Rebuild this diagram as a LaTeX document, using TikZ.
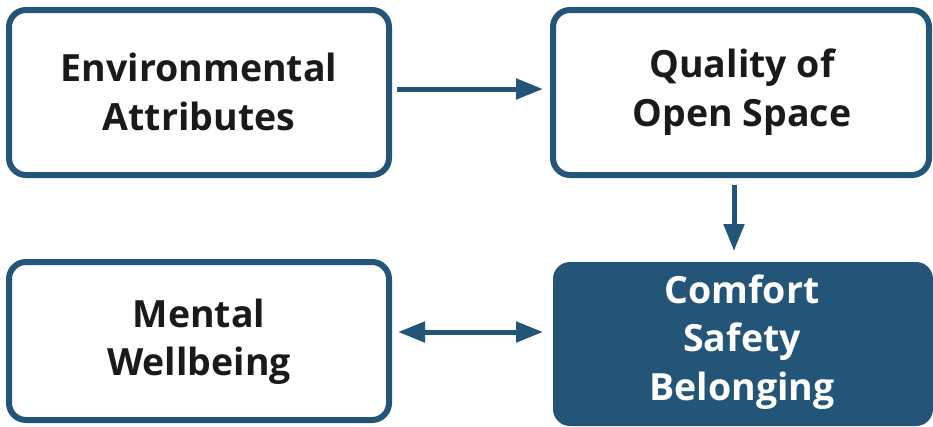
\documentclass[tikz,border=0pt]{standalone}
\usepackage{fontspec}
\setmainfont{Open Sans}
\usetikzlibrary{arrows.meta}
\definecolor{navy}{RGB}{35,85,120}
\definecolor{ink}{RGB}{26,26,26}
\begin{document}
\begin{tikzpicture}[x=1pt,y=-1pt,
  box/.style={draw=navy,line width=6pt,rounded corners=17pt},
  solidbox/.style={fill=navy,rounded corners=17pt},
  label/.style={font=\fontsize{37.5}{48.5}\selectfont\bfseries,align=center,text=ink},
  flow/.style={draw=navy,line width=5pt,-{Triangle[length=27pt,width=20pt]}},
  both/.style={draw=navy,line width=5pt,{Triangle[length=27pt,width=20pt]}-{Triangle[length=27pt,width=20pt]}}]
\useasboundingbox (0,0) rectangle (933,426);
% outlined boxes
\draw[box] (9,10) rectangle (389,175);
\draw[box] (553,10) rectangle (929,175);
\draw[box] (9,262) rectangle (389,420);
% highlighted box
\fill[solidbox] (553,262) rectangle (933,426);
% box labels
\node[label] (env) at (199,92) {Environmental\\Attributes};
\node[label] (qos) at (742,92) {Quality of\\Open Space};
\node[label] (mw) at (199,342) {Mental\\Wellbeing};
\node[label,text=white] (csb) at (742,342) {Comfort\\Safety\\Belonging};
% connectors
\coordinate (a1) at (397,89);
\coordinate (a2) at (543,89);
\coordinate (v1) at (734,185);
\coordinate (v2) at (734,251);
\coordinate (b1) at (398,332);
\coordinate (b2) at (543,332);
\draw[flow] (a1) -- (a2);
\draw[flow] (v1) -- (v2);
\draw[both] (b1) -- (b2);
\end{tikzpicture}
\end{document}
